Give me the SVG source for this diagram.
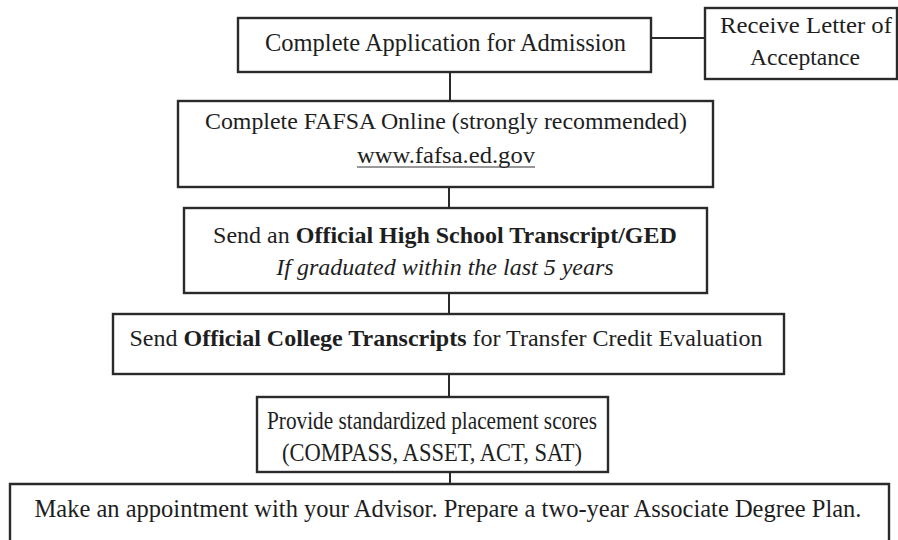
<svg xmlns="http://www.w3.org/2000/svg" width="898" height="540" viewBox="0 0 898 540">
<style>
.box{fill:#ffffff;stroke:#2a2a2a;stroke-width:2.4}
.con{stroke:#2a2a2a;stroke-width:2;fill:none}
text{font-family:"Liberation Serif","Times New Roman",serif;font-size:24px;fill:#1e1e1e;text-anchor:middle}
.b{font-weight:bold}
.i{font-style:italic}
.t{font-size:26px}
</style>
<rect width="898" height="540" fill="#ffffff"/>
<g id="connectors">
<line class="con" x1="651" y1="38" x2="705" y2="38"/>
<line class="con" x1="450" y1="72" x2="450" y2="101"/>
<line class="con" x1="449" y1="187" x2="449" y2="208"/>
<line class="con" x1="449" y1="293" x2="449" y2="314"/>
<line class="con" x1="449" y1="374" x2="449" y2="397"/>
<line class="con" x1="450" y1="472" x2="450" y2="484"/>
</g>
<g id="n1">
<rect class="box" x="238" y="18" width="413" height="54"/>
<text x="445.5" y="51" style="font-size:25px" textLength="361" lengthAdjust="spacingAndGlyphs">Complete Application for Admission</text>
</g>
<g id="n2">
<rect class="box" x="705" y="8" width="192" height="71"/>
<text x="806" y="33" textLength="172" lengthAdjust="spacingAndGlyphs">Receive Letter of</text>
<text x="805" y="65" textLength="110" lengthAdjust="spacingAndGlyphs">Acceptance</text>
</g>
<g id="n3">
<rect class="box" x="178" y="101" width="535" height="86"/>
<text x="446" y="129" textLength="482" lengthAdjust="spacingAndGlyphs">Complete FAFSA Online (strongly recommended)</text>
<text x="446" y="163" textLength="178" lengthAdjust="spacingAndGlyphs">www.fafsa.ed.gov</text>
<line x1="357" y1="167" x2="535" y2="167" stroke="#333" stroke-width="1.2"/>
</g>
<g id="n4">
<rect class="box" x="184" y="208" width="523" height="85"/>
<text x="445" y="243">Send an <tspan class="b">Official High School Transcript/GED</tspan></text>
<text x="445" y="275" class="i">If graduated within the last 5 years</text>
</g>
<g id="n5">
<rect class="box" x="113" y="314" width="671" height="60"/>
<text x="446" y="346">Send <tspan class="b">Official College Transcripts</tspan> for Transfer Credit Evaluation</text>
</g>
<g id="n6">
<rect class="box" x="257" y="397" width="351" height="75"/>
<text class="t" x="432" y="429" textLength="330" lengthAdjust="spacingAndGlyphs">Provide standardized placement scores</text>
<text class="t" x="432" y="461" textLength="300" lengthAdjust="spacingAndGlyphs">(COMPASS, ASSET, ACT, SAT)</text>
</g>
<g id="n7">
<path class="box" d="M10,540 V484 H889 V540"/>
<text class="t" x="448" y="517" textLength="827" lengthAdjust="spacingAndGlyphs">Make an appointment with your Advisor. Prepare a two-year Associate Degree Plan.</text>
</g>
</svg>
